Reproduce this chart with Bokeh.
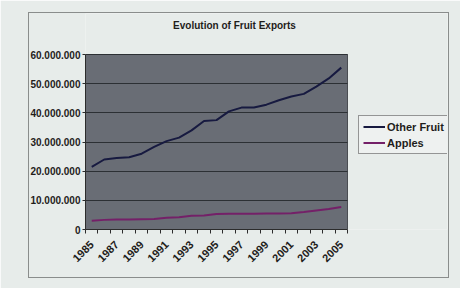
from bokeh.plotting import figure
from bokeh.models import FixedTicker, Legend, LegendItem, Range1d, InlineStyleSheet, Label
from bokeh.embed import file_html
from bokeh.resources import INLINE
from math import pi

years = list(range(1985, 2006))
other_fruit = [21.5, 24.0, 24.5, 24.8, 26.0, 28.3, 30.3, 31.5, 34.0, 37.2, 37.5,
               40.5, 41.8, 41.8, 42.8, 44.3, 45.6, 46.5, 49.0, 51.8, 55.5]
apples = [3.0, 3.3, 3.4, 3.4, 3.5, 3.6, 4.0, 4.2, 4.7, 4.8, 5.3,
          5.4, 5.4, 5.4, 5.5, 5.5, 5.6, 6.0, 6.5, 7.0, 7.7]
other_fruit = [v * 1e6 for v in other_fruit]
apples = [v * 1e6 for v in apples]
y_ticks = [0, 10000000, 20000000, 30000000, 40000000, 50000000, 60000000]
y_labels = ["0", "10.000.000", "20.000.000", "30.000.000", "40.000.000", "50.000.000", "60.000.000"]
x_label_years = years[::2]
title_text = "Evolution of Fruit Exports"

FONT = "Liberation Sans"
TXT = "#1f1d1b"
BG = "#e7ecea"
GRID = "#2c3034"

# layout geometry (pixels)
FRAME_L, FRAME_R, FRAME_T, FRAME_B = 85, 447, 13, 229
PLOT_R, PLOT_T = 347, 54
x0, x1 = years[0] - 0.5, years[-1] + 0.5
y_max = y_ticks[-1]
x_end = x0 + (x1 - x0) * (FRAME_R - FRAME_L) / (PLOT_R - FRAME_L)
y_end = y_max * (FRAME_B - FRAME_T) / (FRAME_B - PLOT_T)

p = figure(width=460, height=288, output_backend="svg", toolbar_location=None,
           x_range=Range1d(x0, x_end), y_range=Range1d(0, y_end),
           min_border_left=FRAME_L, min_border_right=460 - FRAME_R,
           min_border_top=FRAME_T, min_border_bottom=288 - FRAME_B)
p.stylesheets = [InlineStyleSheet(css=""":host::after { content: ''; position: absolute;
  left: 28px; top: 12px; width: 419px; height: 264px; border: 1px solid #8a8d8c;
  pointer-events: none; }""")]
p.background_fill_color = BG
p.border_fill_color = BG
p.outline_line_color = None

# plot area
area = p.quad(left=[x0], right=[x1], bottom=[0], top=[y_max],
              fill_color="#696d75", line_color="#4a4d52", line_width=1, level="image")

of = p.line(years, other_fruit, line_color="#171a40", line_width=2)
ap = p.line(years, apples, line_color="#742068", line_width=2)

p.xgrid.visible = False
p.ygrid.ticker = FixedTicker(ticks=y_ticks)
p.ygrid.grid_line_color = GRID
p.ygrid.grid_line_width = 1
if "cross_bounds" in p.ygrid[0].properties():
    p.ygrid.cross_bounds = (x0, x1)
else:
    p.ygrid.visible = False
    p.segment(x0=[x0] * len(y_ticks), x1=[x1] * len(y_ticks), y0=y_ticks, y1=y_ticks,
              line_color=GRID, line_width=1, level="underlay")

p.yaxis.bounds = (0, y_max)
p.yaxis.ticker = FixedTicker(ticks=y_ticks)
p.yaxis.major_label_overrides = {t: l for t, l in zip(y_ticks, y_labels)}
p.yaxis.major_label_text_font = FONT
p.yaxis.major_label_text_font_style = "bold"
p.yaxis.major_label_text_font_size = "10px"
p.yaxis.major_label_text_color = TXT
p.yaxis.major_tick_out = 3
p.yaxis.major_tick_in = 0
p.yaxis.minor_tick_line_color = None
p.yaxis.axis_line_color = "#2c2c2c"
p.yaxis.major_tick_line_color = "#2c2c2c"
p.yaxis.major_label_standoff = 2

p.xaxis.bounds = (x0, x1)
p.xaxis.ticker = FixedTicker(ticks=x_label_years,
                             minor_ticks=[y - 0.5 for y in years] + [x1])
p.xaxis.major_label_overrides = {y: str(y) for y in x_label_years}
p.xaxis.major_label_orientation = pi / 4
p.xaxis.major_label_text_font = FONT
p.xaxis.major_label_text_font_style = "bold"
p.xaxis.major_label_text_font_size = "11px"
p.xaxis.major_label_text_color = TXT
p.xaxis.major_tick_in = 0
p.xaxis.major_tick_out = 0
p.xaxis.minor_tick_in = 0
p.xaxis.minor_tick_out = 4
p.xaxis.minor_tick_line_color = "#2c2c2c"
p.xaxis.axis_line_color = "#2c2c2c"
p.xaxis.major_label_standoff = 9

legend = Legend(items=[LegendItem(label="Other Fruit", renderers=[of]),
                       LegendItem(label="Apples", renderers=[ap])],
                location=(358 - FRAME_L, FRAME_B - 154))
legend.label_text_font = FONT
legend.label_text_font_style = "bold"
legend.label_text_font_size = "11px"
legend.label_text_color = TXT
legend.background_fill_color = "#eef1f0"
legend.background_fill_alpha = 1
legend.border_line_color = "#3a3a3a"
legend.glyph_width = 22
legend.glyph_height = 13
legend.label_height = 13
legend.label_standoff = 2
legend.spacing = 3
legend.padding = 4
legend.margin = 0
p.add_layout(legend, "center")

p.add_layout(Label(x=234 - FRAME_L, y=FRAME_B - 25, x_units="screen", y_units="screen",
                   text=title_text, text_font=FONT, text_font_style="bold",
                   text_font_size="10px", text_color=TXT,
                   text_align="center", text_baseline="middle"))

open("out.html", "w").write(file_html(p, INLINE))
